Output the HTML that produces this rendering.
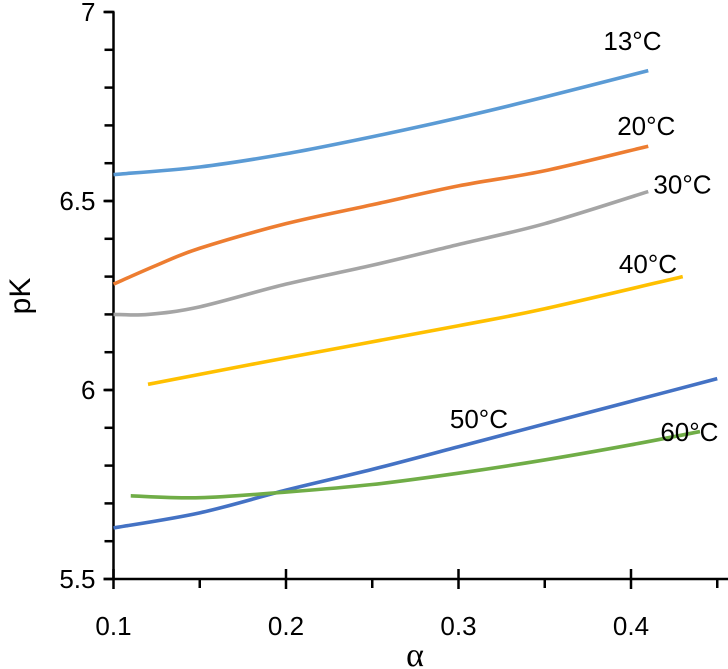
<!DOCTYPE html>
<html><head><meta charset="utf-8"><style>
html,body{margin:0;padding:0;background:#fff;}
svg{display:block;font-family:"Liberation Sans",Calibri,sans-serif;}
</style></head><body>
<svg id="chart" width="728" height="669" viewBox="0 0 728 669" xmlns="http://www.w3.org/2000/svg">
<g id="axes"></g>
<g id="series"></g>
<g id="labels"></g>
<text x="0" y="0" transform="translate(30,296) rotate(-90)" text-anchor="middle" font-size="30">pK</text>
<text x="415" y="666" text-anchor="middle" font-size="34" font-family="Liberation Serif, serif">α</text>
</svg>
<script>
const xTicks=[0.1,0.2,0.3,0.4];
const xTickLabels=["0.1","0.2","0.3","0.4"];
const yTicks=[5.5,6,6.5,7];
const yTickLabels=["5.5","6","6.5","7"];
const seriesNames=["13°C","20°C","30°C","40°C","50°C","60°C"];
const seriesColors=["#5b9bd5","#ed7d31","#a5a5a5","#ffc000","#4472c4","#70ad47"];
const s13x=[0.1,0.15,0.2,0.25,0.3,0.35,0.41];
const s13y=[6.57,6.59,6.625,6.67,6.72,6.775,6.845];
const s20x=[0.1,0.125,0.15,0.2,0.25,0.3,0.35,0.41];
const s20y=[6.28,6.33,6.375,6.44,6.49,6.54,6.58,6.645];
const s30x=[0.1,0.12,0.15,0.2,0.25,0.3,0.35,0.41];
const s30y=[6.2,6.2,6.22,6.28,6.33,6.385,6.44,6.525];
const s40x=[0.12,0.2,0.3,0.35,0.43];
const s40y=[6.015,6.085,6.17,6.215,6.3];
const s50x=[0.1,0.15,0.2,0.25,0.3,0.35,0.4,0.45];
const s50y=[5.635,5.675,5.735,5.79,5.85,5.91,5.97,6.03];
const s60x=[0.11,0.15,0.2,0.25,0.3,0.35,0.4,0.44];
const s60y=[5.72,5.715,5.73,5.75,5.78,5.815,5.855,5.89];
const labelX=[0.384,0.392,0.413,0.393,0.295,0.417];
const labelY=[6.9,6.675,6.52,6.31,5.9,5.865];

const NS="http://www.w3.org/2000/svg";
const X=v=>113.5+(v-0.1)*1725;
const Y=v=>579-(v-5.5)*378;
function mk(t,a,p){const e=document.createElementNS(NS,t);for(const k in a)e.setAttribute(k,a[k]);p.appendChild(e);return e;}
const axes=document.getElementById('axes');
const ax=mk('line',{x1:X(0.1),y1:Y(7),x2:X(0.1),y2:Y(5.5),stroke:'#000','stroke-width':2.5},axes);

const ay=mk('line',{x1:X(0.1)-10,y1:Y(5.5),x2:728,y2:Y(5.5),stroke:'#000','stroke-width':2.5},axes);

for(let v=5.6;v<7;v+=0.1){const t=mk('line',{x1:X(0.1)-9,y1:Y(v),x2:X(0.1),y2:Y(v),stroke:'#000','stroke-width':2.5},axes);
}
yTicks.forEach((v,i)=>{const t=mk('line',{x1:X(0.1)-10,y1:Y(v),x2:X(0.1)+1,y2:Y(v),stroke:'#000','stroke-width':2.5},axes);

const l=mk('text',{x:X(0.1)-18,y:Y(v)+9,'text-anchor':'end','font-size':26},axes);l.textContent=yTickLabels[i];
});
for(let v=0.15;v<0.45;v+=0.1){const t=mk('line',{x1:X(v),y1:Y(5.5),x2:X(v),y2:Y(5.5)+9,stroke:'#000','stroke-width':2.5},axes);
}
xTicks.forEach((v,i)=>{const t=mk('line',{x1:X(v),y1:Y(5.5)-10,x2:X(v),y2:Y(5.5)+10,stroke:'#000','stroke-width':2.5},axes);

const l=mk('text',{x:X(v),y:Y(5.5)+56,'text-anchor':'middle','font-size':26},axes);l.textContent=xTickLabels[i];
});
function smooth(xs,ys){const p=xs.map((x,i)=>[X(x),Y(ys[i])]);let d='M'+p[0];
for(let i=0;i<p.length-1;i++){const p0=p[i-1]||p[i],p1=p[i],p2=p[i+1],p3=p[i+2]||p2;
const c1=[p1[0]+(p2[0]-p0[0])/6,p1[1]+(p2[1]-p0[1])/6],c2=[p2[0]-(p3[0]-p1[0])/6,p2[1]-(p3[1]-p1[1])/6];
d+='C'+c1+' '+c2+' '+p2;}return d;}
const allX=[s13x,s20x,s30x,s40x,s50x,s60x],allY=[s13y,s20y,s30y,s40y,s50y,s60y];
const sg=document.getElementById('series'),lg=document.getElementById('labels');
allX.forEach((xs,i)=>{const p=mk('path',{d:smooth(xs,allY[i]),fill:'none',stroke:seriesColors[i],'stroke-width':3.6},sg);

const t=mk('text',{x:X(labelX[i]),y:Y(labelY[i]),'font-size':26},lg);t.textContent=seriesNames[i];
});
</script>
</body></html>
